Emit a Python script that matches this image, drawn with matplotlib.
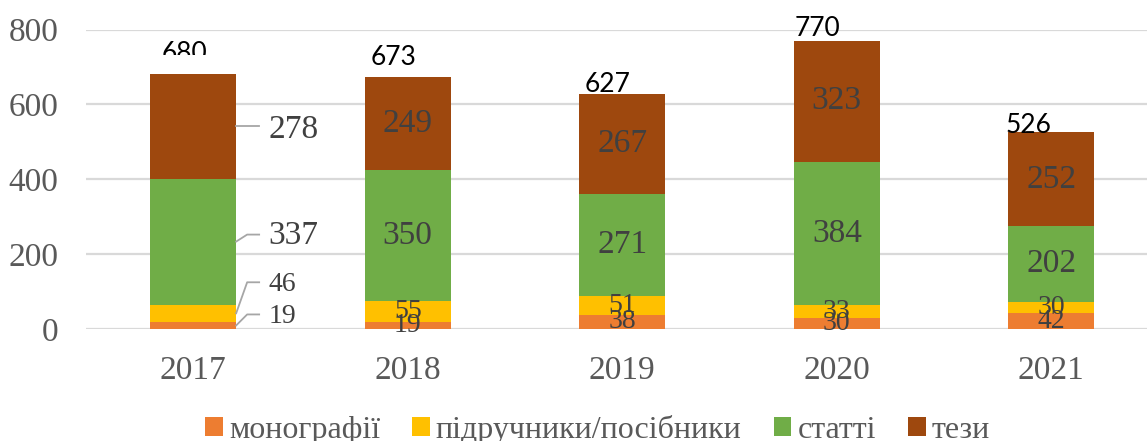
import matplotlib
matplotlib.use("Agg")
import matplotlib.pyplot as plt
from matplotlib.lines import Line2D
from matplotlib.patches import Rectangle

years = ["2017", "2018", "2019", "2020", "2021"]
monographs = [19, 19, 38, 30, 42]
textbooks = [46, 55, 51, 33, 30]
articles = [337, 350, 271, 384, 202]
theses = [278, 249, 267, 323, 252]
totals = [680, 673, 627, 770, 526]
series_names = ["монографії", "підручники/посібники", "статті", "тези"]
colors = ["#ED7D31", "#FFC000", "#70AD47", "#9E480E"]

# pixel offsets of the total labels relative to (bar centre, bar top)
total_dx = [-9, -14, -15, -19, -23]
total_dy = [13, 12, 2, 5, -1]

# 2017 labels sit outside the bar: (label dy, elbow dy) in pixels, y upward,
# in series order (monographs, textbooks, articles, theses)
outside = [(11, 11), (31, 31), (8, 7), (-1, 0)]

serif = "Liberation Serif"
fig = plt.figure(figsize=(11.47, 4.41), dpi=100)
ax = fig.add_axes([86 / 1147, 112 / 441, 1061 / 1147, 299.5 / 441])

x = list(range(len(years)))
width = 0.40
series = [monographs, textbooks, articles, theses]
bottoms = [0] * len(years)
seg_centers = []
for vals, name, c in zip(series, series_names, colors):
    ax.bar(x, vals, width, bottom=bottoms, color=c, label=name, zorder=2)
    seg_centers.append([b + v / 2 for b, v in zip(bottoms, vals)])
    bottoms = [b + v for b, v in zip(bottoms, vals)]

ax.set_xlim(-0.5, -0.5 + 1061 / 214.5)
ax.set_ylim(0, 800)
ax.set_yticks(range(0, 801, 200))
ax.set_xticks(x)
ax.set_xticklabels(years)
ax.grid(axis="y", color="#D9D9D9", linewidth=1.6, zorder=0)
ax.set_axisbelow(True)
for s in ax.spines.values():
    s.set_visible(False)
ax.tick_params(length=0, labelsize=24, labelcolor="#595959")
ax.tick_params(axis="x", pad=19)
ax.tick_params(axis="y", pad=20)
for lab in ax.get_xticklabels() + ax.get_yticklabels():
    lab.set_family(serif)

to_fig = fig.transFigure.inverted()

# segment labels
for si, vals in enumerate(series):
    small = si < 2
    for i, v in enumerate(vals):
        if i == 0:
            continue
        ax.text(x[i], seg_centers[si][i], str(v), ha="center", va="center",
                fontsize=20 if small else 24, family=serif, color="#404040", zorder=4)

# 2017 labels with leader lines
for si, vals in enumerate(series):
    px, py = ax.transData.transform((x[0] + width / 2, seg_centers[si][0]))
    ldy, edy = outside[si]
    pts = [(px, py), (px + 11, py + edy), (px + 23, py + edy)]
    fpts = to_fig.transform(pts)
    fig.add_artist(Line2D(fpts[:, 0], fpts[:, 1], transform=fig.transFigure,
                          color="#A6A6A6", linewidth=1.3))
    tx, ty = to_fig.transform((px + 32, py + ldy - 2))
    fig.text(tx, ty, str(vals[0]), ha="left", va="center",
             fontsize=20 if si < 2 else 24, family=serif, color="#404040")

# totals
clip = Rectangle((0, (441 - 55) / 441), 1, 1, transform=fig.transFigure)
for i, t in enumerate(totals):
    px, py = ax.transData.transform((x[i], t))
    tx, ty = to_fig.transform((px + total_dx[i], py + total_dy[i]))
    txt = fig.text(tx, ty, str(t), ha="center", va="baseline", fontsize=19,
                   family="Lato", color="black", zorder=1)
    if i == 0:
        txt.set_clip_path(clip)

handles, labels = ax.get_legend_handles_labels()
fig.legend(handles, labels, loc="center", bbox_to_anchor=(0.521, 0.026),
           ncol=4, frameon=False, handlelength=0.55, handleheight=0.55,
           handletextpad=0.2, columnspacing=1.0,
           prop={"family": serif, "size": 23}, labelcolor="#595959")

fig.savefig("out.png", dpi=100)
